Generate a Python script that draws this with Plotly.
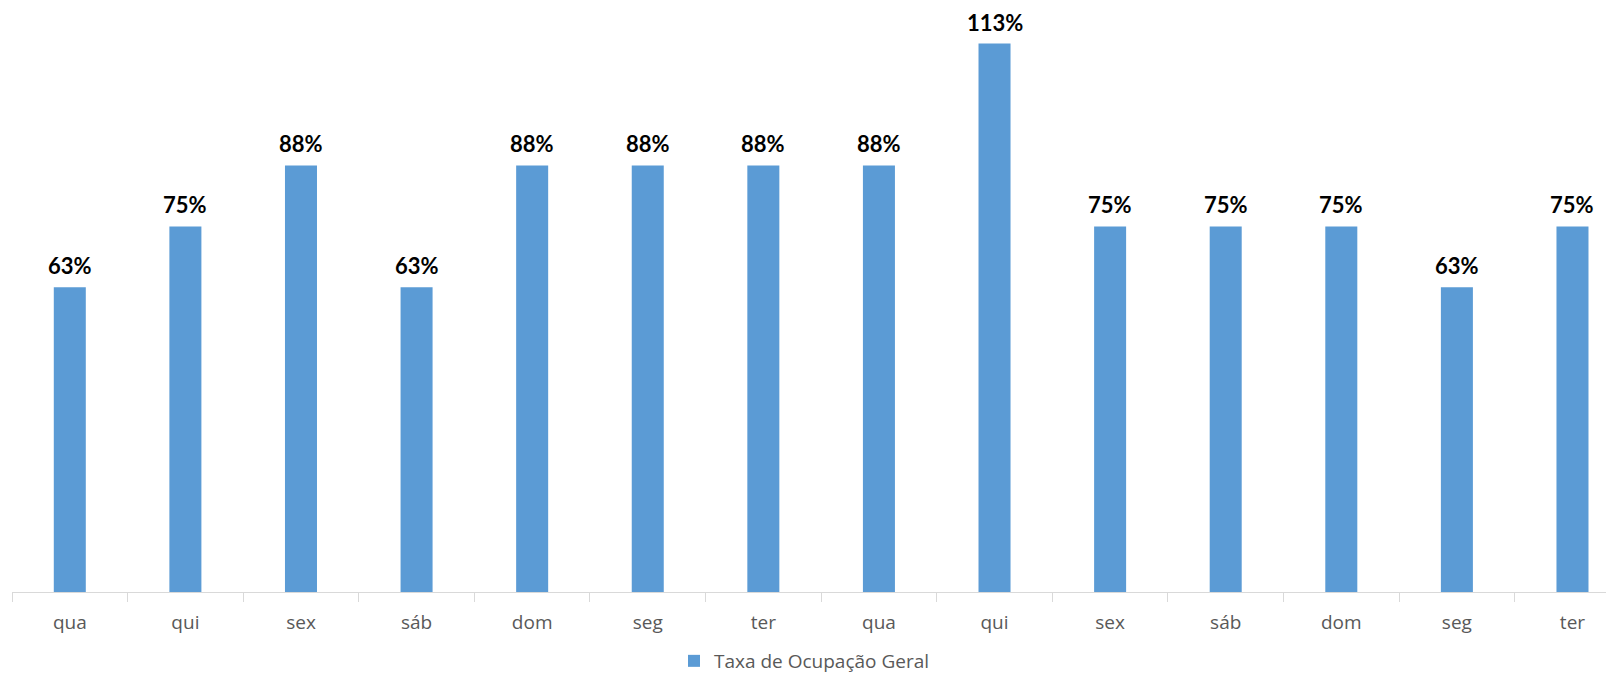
import plotly.graph_objects as go

days = ["qua", "qui", "sex", "sáb", "dom", "seg", "ter",
        "qua", "qui", "sex", "sáb", "dom", "seg", "ter"]
occupancy = [0.625, 0.75, 0.875, 0.625, 0.875, 0.875, 0.875,
             0.875, 1.125, 0.75, 0.75, 0.75, 0.625, 0.75]
series_name = "Taxa de Ocupação Geral"

positions = list(range(len(days)))
boundaries = [i - 0.5 for i in range(len(days) + 1)]

fig = go.Figure()
fig.add_trace(go.Bar(
    x=positions, y=occupancy, name=series_name,
    marker=dict(color="#5B9BD5", line=dict(width=0)),
    width=0.277, showlegend=True,
))

for xi, v in zip(positions, occupancy):
    fig.add_annotation(
        x=xi, y=v, text=f"<b>{int(v * 100 + 0.5)}%</b>",
        showarrow=False, yanchor="bottom", yshift=6,
        font=dict(family="Lato", size=22, color="#000000"),
    )

fig.update_layout(
    width=1606, height=680,
    margin=dict(l=12, r=0, t=7, b=88),
    paper_bgcolor="white", plot_bgcolor="white",
    showlegend=True,
    legend=dict(orientation="h", x=0.4153, xanchor="left",
                yref="container", y=-0.009, yanchor="bottom",
                font=dict(family="Open Sans", size=19, color="#595959"),
                bgcolor="rgba(0,0,0,0)"),
    xaxis=dict(
        range=[-0.5, 13.29], tickmode="array", tickvals=positions, ticktext=days,
        ticks="outside", ticklen=13, tickcolor="rgba(0,0,0,0)",
        showline=True, linecolor="#D9D9D9", linewidth=1.3,
        showgrid=False, zeroline=False, automargin=False,
        tickfont=dict(family="Open Sans", size=19, color="#595959"),
        minor=dict(tickmode="array", tickvals=boundaries, ticks="outside",
                   ticklen=9, tickwidth=1.3, tickcolor="#D9D9D9", showgrid=False),
    ),
    yaxis=dict(range=[0, 1.2], visible=False, showgrid=False, zeroline=False),
)

fig.write_html("out.html")
